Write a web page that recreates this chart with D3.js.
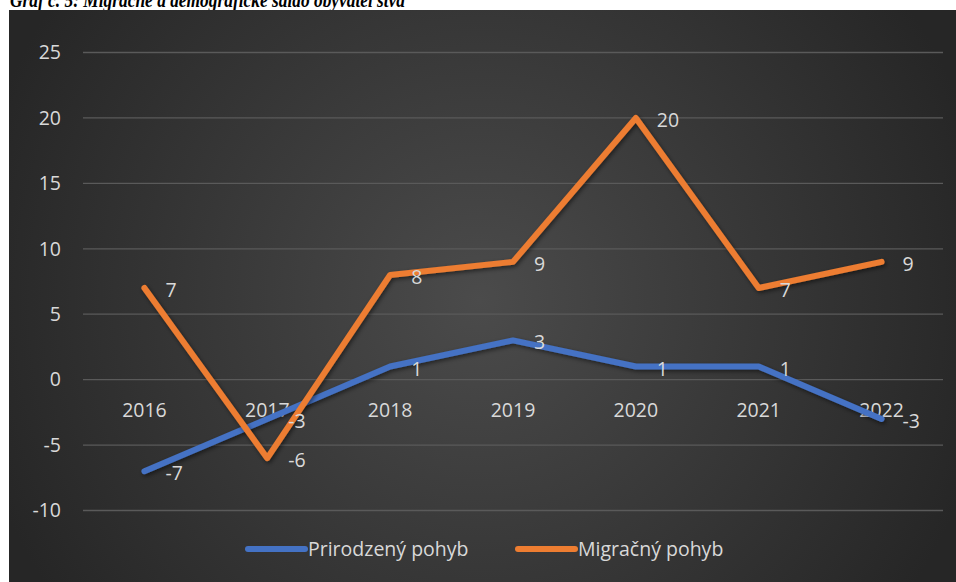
<!DOCTYPE html>
<html>
<head>
<meta charset="utf-8">
<script src="https://cdnjs.cloudflare.com/ajax/libs/d3/7.8.5/d3.min.js"></script>
<style>
  body { margin: 0; background: #fff; }
  svg { display: block; }
</style>
</head>
<body>
<svg id="chart"></svg>
<script>
var years = ["2016", "2017", "2018", "2019", "2020", "2021", "2022"];
var prirodzeny = [-7, -3, 1, 3, 1, 1, -3];
var migracny = [7, -6, 8, 9, 20, 7, 9];
var yTicks = [-10, -5, 0, 5, 10, 15, 20, 25];
var seriesNames = ["Prirodzený pohyb", "Migračný pohyb"];
var seriesColors = ["#4472c4", "#ed7d31"];

var width = 956, height = 582;
var svg = d3.select("#chart").attr("width", width).attr("height", height);

// title, its top is cut off by the page edge and its bottom by the panel
svg.append("text")
  .attr("x", 10)
  .attr("y", 7)
  .attr("textLength", 395)
  .attr("lengthAdjust", "spacingAndGlyphs")
  .style("font-family", "Liberation Serif")
  .style("font-weight", "bold")
  .style("font-style", "italic")
  .style("font-size", "20px")
  .style("fill", "#000")
  .text("Graf č. 5: Migračné a demografické saldo obyvateľstva");

var defs = svg.append("defs");
var grad = defs.append("radialGradient")
  .attr("id", "bg")
  .attr("gradientUnits", "userSpaceOnUse")
  .attr("cx", 480).attr("cy", 300).attr("r", 520);
grad.append("stop").attr("offset", "0%").attr("stop-color", "#4b4b4b");
grad.append("stop").attr("offset", "100%").attr("stop-color", "#262626");

var shadow = defs.append("filter").attr("id", "shadow")
  .attr("x", "-10%").attr("y", "-10%").attr("width", "120%").attr("height", "120%");
shadow.append("feDropShadow")
  .attr("dx", 1.5).attr("dy", 2).attr("stdDeviation", 2)
  .attr("flood-color", "#000").attr("flood-opacity", 0.5);

svg.append("rect")
  .attr("x", 9).attr("y", 10)
  .attr("width", width - 9).attr("height", height - 10)
  .attr("fill", "url(#bg)");

var x = d3.scaleBand().domain(years).range([83, 943]);
var y = d3.scaleLinear().domain([-10, 25]).range([510.5, 52.5]);

var font = "'Open Sans', 'Noto Sans', sans-serif";
var fontSize = "19.5px";
var textColor = "#d9d9d9";

// gridlines
svg.append("g")
  .selectAll("line")
  .data(yTicks)
  .enter()
  .append("line")
    .attr("x1", 83).attr("x2", 943)
    .attr("y1", function(d) { return y(d); })
    .attr("y2", function(d) { return y(d); })
    .attr("stroke", "#5a5a5a")
    .attr("stroke-width", 1.3);

// y axis labels
var yAxis = d3.axisLeft(y).tickValues(yTicks).tickSize(0).tickPadding(0)
  .tickFormat(function(d) { return d; });
var gy = svg.append("g")
  .attr("transform", "translate(61,0)")
  .call(yAxis);
gy.select(".domain").remove();
gy.selectAll("text")
  .style("font-family", font)
  .style("font-size", fontSize)
  .style("fill", textColor);

// x axis labels sit on the zero line
var xAxis = d3.axisBottom(x).tickSize(0).tickPadding(24);
var gx = svg.append("g")
  .attr("transform", "translate(0," + y(0) + ")")
  .call(xAxis);
gx.select(".domain").remove();
gx.selectAll("text")
  .style("font-family", font)
  .style("font-size", fontSize)
  .style("fill", textColor);

var line = d3.line()
  .x(function(d, i) { return x(years[i]) + x.bandwidth() / 2; })
  .y(function(d) { return y(d); });

var allSeries = [prirodzeny, migracny];

allSeries.forEach(function(vals, s) {
  svg.append("path")
    .datum(vals)
    .attr("d", line)
    .attr("fill", "none")
    .attr("stroke", seriesColors[s])
    .attr("stroke-width", 6)
    .attr("stroke-linejoin", "round")
    .attr("stroke-linecap", "round")
    .attr("filter", "url(#shadow)");
});

// data labels to the right of each point
allSeries.forEach(function(vals, s) {
  svg.append("g")
    .selectAll("text")
    .data(vals)
    .enter()
    .append("text")
      .attr("x", function(d, i) { return x(years[i]) + x.bandwidth() / 2 + 21; })
      .attr("y", function(d) { return y(d) + 9; })
      .style("font-family", font)
      .style("font-size", fontSize)
      .style("fill", textColor)
      .text(function(d) { return d; });
});

// legend
var legendX = [248, 518];
seriesNames.forEach(function(name, s) {
  var g = svg.append("g").attr("transform", "translate(" + legendX[s] + ",549)");
  g.append("line")
    .attr("x1", 0).attr("x2", 57)
    .attr("y1", 0).attr("y2", 0)
    .attr("stroke", seriesColors[s])
    .attr("stroke-width", 6)
    .attr("stroke-linecap", "round");
  g.append("text")
    .attr("x", 60)
    .attr("y", 7)
    .style("font-family", font)
    .style("font-size", fontSize)
    .style("fill", textColor)
    .text(name);
});
</script>
</body>
</html>
